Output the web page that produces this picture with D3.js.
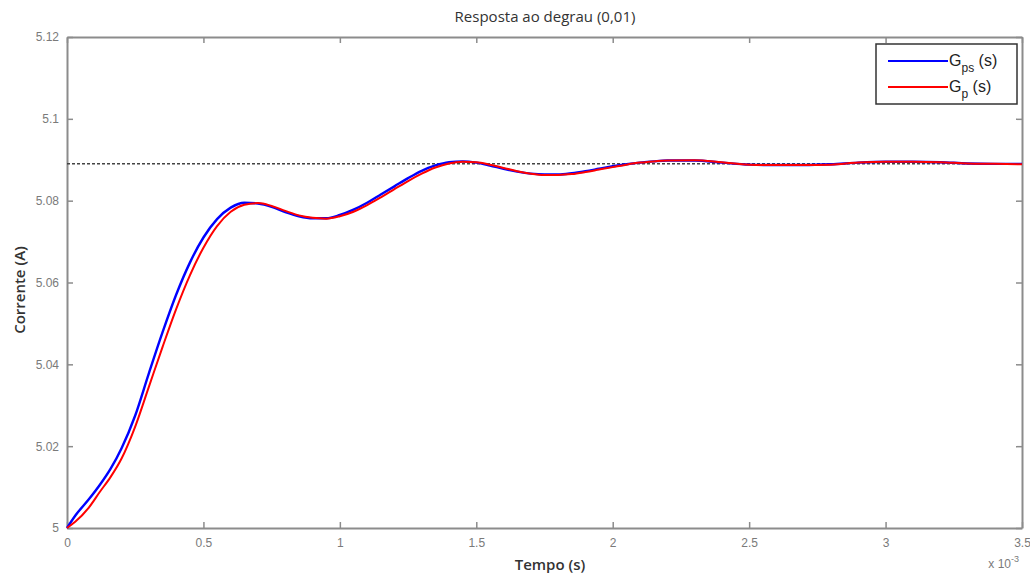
<!DOCTYPE html>
<html>
<head>
<meta charset="utf-8">
<script src="https://cdn.jsdelivr.net/npm/d3@7"></script>
<style>
  body { margin: 0; background: #fff; }
  svg { display: block; }
</style>
</head>
<body>
<div id="chart"></div>
<script>
// Data (time in ms, current in A)
const tempo = [0, 0.03, 0.08, 0.12, 0.16, 0.2, 0.25, 0.3, 0.35, 0.4, 0.45, 0.5, 0.55, 0.6, 0.65, 0.7, 0.75, 0.8, 0.85, 0.9, 0.95,
  1.0, 1.05, 1.1, 1.15, 1.2, 1.25, 1.3, 1.35, 1.4, 1.45, 1.5, 1.55, 1.6, 1.65, 1.7, 1.75, 1.8, 1.85, 1.9, 1.95,
  2.0, 2.05, 2.1, 2.15, 2.2, 2.3, 2.4, 2.5, 2.6, 2.7, 2.8, 2.9, 3.0, 3.1, 3.2, 3.3, 3.4, 3.5];

const gps = [5.000, 5.003, 5.007, 5.0105, 5.0145, 5.0195, 5.0275, 5.0378, 5.0478, 5.0570, 5.0648, 5.0710, 5.0755, 5.0783, 5.0795,
  5.0793, 5.0785, 5.0772, 5.0762, 5.0757, 5.0757, 5.0765, 5.0778, 5.0795, 5.0815, 5.0835, 5.0855, 5.0873, 5.0886, 5.0894,
  5.0896, 5.0893, 5.0886, 5.0878, 5.0871, 5.0866, 5.0864, 5.0864, 5.0867, 5.0872, 5.0878, 5.0884, 5.0889, 5.0893, 5.0896,
  5.0898, 5.0898, 5.0893, 5.0888, 5.0887, 5.0887, 5.0889, 5.0893, 5.0895, 5.0895, 5.0894, 5.0891, 5.0890, 5.0890];

const gp = [5.000, 5.0015, 5.005, 5.0088, 5.0125, 5.0170, 5.0248, 5.0345, 5.0442, 5.0535, 5.0617, 5.0685, 5.0738, 5.0773, 5.0790,
  5.0794, 5.0787, 5.0775, 5.0764, 5.0758, 5.0756, 5.0762, 5.0773, 5.0789, 5.0808, 5.0828, 5.0848, 5.0866, 5.0881, 5.0891,
  5.0895, 5.0894, 5.0888, 5.0880, 5.0872, 5.0866, 5.0863, 5.0863, 5.0865, 5.0870, 5.0876, 5.0882, 5.0888, 5.0893, 5.0896,
  5.0898, 5.0899, 5.0894, 5.0888, 5.0887, 5.0887, 5.0888, 5.0893, 5.0895, 5.0895, 5.0894, 5.0891, 5.0890, 5.0889];

const valorFinal = 5.089;
const xTicks = [0, 0.5, 1, 1.5, 2, 2.5, 3, 3.5];
const yTicks = [5, 5.02, 5.04, 5.06, 5.08, 5.1, 5.12];

const config = {
  containerWidth: 1030,
  containerHeight: 576,
  margin: { top: 37, right: 8, bottom: 48, left: 67 }
};

const width = config.containerWidth - config.margin.left - config.margin.right;
const height = config.containerHeight - config.margin.top - config.margin.bottom;

const svgRoot = d3.select('#chart')
  .append('svg')
  .attr('width', config.containerWidth)
  .attr('height', config.containerHeight);

const svg = svgRoot.append('g')
  .attr('transform', `translate(${config.margin.left},${config.margin.top})`);

const xScale = d3.scaleLinear().domain([0, 3.5]).range([0, width]);
const yScale = d3.scaleLinear().domain([5, 5.12]).range([height, 0]);

const axisColor = '#8c8c8c';
const tickFont = '"Liberation Sans", Arial, sans-serif';

// Axes (MATLAB style: ticks pointing inward, on all four sides)
const xAxis = d3.axisBottom(xScale).tickValues(xTicks).tickSizeInner(-6).tickSizeOuter(0).tickPadding(10)
  .tickFormat(d => d3.format('')(d));
const xAxisTop = d3.axisTop(xScale).tickValues(xTicks).tickSizeInner(-6).tickSizeOuter(0).tickFormat('');
const yAxis = d3.axisLeft(yScale).tickValues(yTicks).tickSizeInner(-6).tickSizeOuter(0).tickPadding(8)
  .tickFormat(d => d3.format('')(+d.toFixed(2)));
const yAxisRight = d3.axisRight(yScale).tickValues(yTicks).tickSizeInner(-6).tickSizeOuter(0).tickFormat('');

function styleAxis(g) {
  g.select('.domain').attr('stroke', axisColor).attr('stroke-width', 2);
  g.selectAll('.tick line').attr('stroke', axisColor).attr('stroke-width', 1.5);
  g.selectAll('.tick text').attr('fill', '#7a7a7a').style('font-family', tickFont).style('font-size', '12px');
}

svg.append('g').attr('class', 'x-axis').attr('transform', `translate(0,${height})`).call(xAxis).call(styleAxis);
svg.append('g').attr('class', 'x-axis-top').call(xAxisTop).call(styleAxis);
svg.append('g').attr('class', 'y-axis').call(yAxis).call(styleAxis);
svg.append('g').attr('class', 'y-axis-right').attr('transform', `translate(${width},0)`).call(yAxisRight).call(styleAxis);

// Dotted reference line (final value)
svg.append('line')
  .attr('x1', xScale(0)).attr('x2', xScale(3.5))
  .attr('y1', yScale(valorFinal)).attr('y2', yScale(valorFinal))
  .attr('stroke', '#444')
  .attr('stroke-width', 1.5)
  .attr('stroke-dasharray', '3,2');

// Curves
const line = d3.line()
  .x(d => xScale(d[0]))
  .y(d => yScale(d[1]))
  .curve(d3.curveMonotoneX);

svg.append('path')
  .datum(tempo.map((t, i) => [t, gps[i]]))
  .attr('fill', 'none')
  .attr('stroke', '#0000ff')
  .attr('stroke-width', 2.4)
  .attr('d', line);

svg.append('path')
  .datum(tempo.map((t, i) => [t, gp[i]]))
  .attr('fill', 'none')
  .attr('stroke', '#ff0000')
  .attr('stroke-width', 2)
  .attr('d', line);

// x 10^-3 multiplier
const mult = svg.append('text')
  .attr('x', width - 3)
  .attr('y', height + 40)
  .attr('text-anchor', 'end')
  .attr('fill', '#7a7a7a')
  .style('font-family', tickFont)
  .style('font-size', '12px');
mult.append('tspan').text('x 10');
mult.append('tspan').attr('dy', -6).style('font-size', '9px').text('-3');

// Titles
svgRoot.append('text')
  .attr('x', 545)
  .attr('y', 22)
  .attr('text-anchor', 'middle')
  .attr('fill', '#333')
  .style('font-family', '"Open Sans", sans-serif')
  .style('font-size', '15px')
  .text('Resposta ao degrau (0,01)');

svgRoot.append('text')
  .attr('x', 550)
  .attr('y', 570)
  .attr('text-anchor', 'middle')
  .attr('fill', '#333')
  .style('font-family', '"Open Sans", sans-serif')
  .style('font-size', '15px')
  .style('font-weight', '600')
  .text('Tempo (s)');

svgRoot.append('text')
  .attr('transform', 'translate(25,290) rotate(-90)')
  .attr('text-anchor', 'middle')
  .attr('fill', '#333')
  .style('font-family', '"Open Sans", sans-serif')
  .style('font-size', '15px')
  .style('font-weight', '600')
  .text('Corrente (A)');

// Legend
const legendItems = [
  { name: 'G', sub: 'ps', color: '#0000ff' },
  { name: 'G', sub: 'p', color: '#ff0000' }
];

const legend = svgRoot.append('g').attr('transform', 'translate(876,44)');
legend.append('rect')
  .attr('width', 141)
  .attr('height', 60)
  .attr('fill', '#fff')
  .attr('stroke', '#333')
  .attr('stroke-width', 1.5);

legendItems.forEach((d, i) => {
  const gy = 17 + i * 26;
  legend.append('line')
    .attr('x1', 12).attr('x2', 72)
    .attr('y1', gy).attr('y2', gy)
    .attr('stroke', d.color)
    .attr('stroke-width', 2);
  const t = legend.append('text')
    .attr('x', 73)
    .attr('y', gy + 5)
    .attr('fill', '#222')
    .style('font-family', tickFont)
    .style('font-size', '16px');
  t.append('tspan').text(d.name);
  t.append('tspan').attr('dy', 6).style('font-size', '12px').text(d.sub);
  t.append('tspan').attr('dy', -6).text(' (s)');
});
</script>
</body>
</html>
